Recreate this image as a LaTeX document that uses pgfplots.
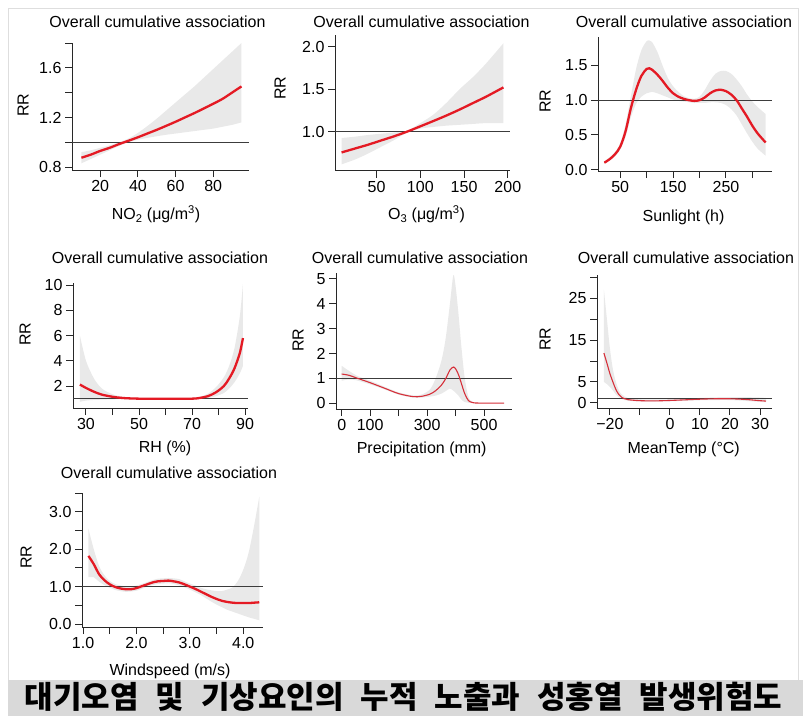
\documentclass[border=0pt]{standalone}
\usepackage{fontspec}
\setmainfont{Liberation Sans}
\newfontfamily\krfont{Noto Sans CJK KR}
\usepackage{pgfplots}
\pgfplotsset{compat=1.18}
\usepgfplotslibrary{fillbetween}

\definecolor{bandc}{RGB}{233,233,233}
\definecolor{redc}{RGB}{228,26,36}
\definecolor{redthin}{RGB}{214,48,58}
\definecolor{axc}{RGB}{40,40,40}
\definecolor{refc}{RGB}{60,60,60}
\definecolor{framec}{RGB}{222,222,222}
\definecolor{capc}{RGB}{217,217,217}

% x rr lo hi
\pgfplotstableread{
x rr lo hi
10 0.875 0.83 0.92
15 0.90 0.865 0.935
20 0.93 0.90 0.955
25 0.955 0.935 0.975
30 0.985 0.97 1.0
35 1.012 1.0 1.03
40 1.04 1.02 1.075
45 1.07 1.035 1.13
50 1.10 1.048 1.19
55 1.132 1.06 1.255
60 1.165 1.07 1.32
65 1.20 1.08 1.385
70 1.235 1.09 1.45
75 1.272 1.10 1.52
80 1.31 1.11 1.59
85 1.35 1.125 1.66
90 1.40 1.14 1.73
95 1.45 1.16 1.80
}\tNO

\pgfplotstableread{
x rr lo hi
10 0.755 0.615 0.925
25 0.80 0.67 0.94
40 0.845 0.74 0.96
55 0.895 0.82 0.975
70 0.945 0.90 0.99
85 1.0 0.99 1.01
100 1.062 1.035 1.10
115 1.125 1.055 1.20
130 1.19 1.07 1.34
145 1.26 1.08 1.50
160 1.335 1.09 1.64
175 1.41 1.10 1.80
195 1.52 1.10 2.04
}\tOT

\pgfplotstableread{
x rr lo hi
20 0.10 0.08 0.12
30 0.15 0.13 0.18
40 0.22 0.19 0.25
50 0.33 0.29 0.38
60 0.55 0.47 0.65
70 0.88 0.75 1.05
80 1.15 0.95 1.45
90 1.35 1.05 1.72
100 1.45 1.10 1.85
105 1.46 1.11 1.86
110 1.44 1.12 1.84
120 1.37 1.10 1.70
130 1.28 1.07 1.50
140 1.18 1.04 1.32
150 1.10 1.01 1.20
160 1.05 0.99 1.12
170 1.02 0.98 1.06
180 1.00 0.97 1.03
190 0.99 0.96 1.02
200 1.00 0.96 1.05
210 1.04 0.96 1.15
220 1.10 0.97 1.28
230 1.14 0.97 1.38
240 1.15 0.96 1.42
250 1.13 0.93 1.42
260 1.08 0.87 1.38
270 1.00 0.78 1.30
280 0.88 0.65 1.20
290 0.76 0.52 1.08
300 0.63 0.40 0.98
310 0.52 0.30 0.90
325 0.39 0.20 0.80
}\tSUN

\pgfplotstableread{
x rr lo hi
27.7 2.12 0.75 6.0
30 1.85 0.85 4.0
33 1.55 0.90 2.6
36 1.32 0.92 1.8
40 1.15 0.95 1.35
44 1.05 0.96 1.15
50 1.00 0.96 1.05
60 0.99 0.96 1.02
70 1.00 0.95 1.05
73 1.06 0.98 1.15
76 1.20 1.05 1.40
79 1.50 1.20 1.90
82 2.00 1.45 2.70
84 2.60 1.80 3.60
86 3.40 2.30 5.00
88 4.60 3.00 7.50
89.2 5.80 3.60 10.1
}\tRH

\pgfplotstableread{
x rr lo hi
0 1.17 0.90 1.50
25 1.12 0.95 1.30
50 1.02 0.92 1.12
75 0.92 0.84 1.00
100 0.82 0.75 0.90
150 0.60 0.55 0.66
200 0.38 0.34 0.43
250 0.26 0.22 0.31
280 0.27 0.22 0.34
310 0.36 0.26 0.55
330 0.50 0.30 1.00
350 0.72 0.38 1.70
365 0.98 0.48 2.60
380 1.33 0.58 4.00
392 1.45 0.50 5.15
400 1.38 0.42 4.70
410 1.15 0.30 3.60
420 0.80 0.14 2.30
432 0.38 0.04 1.00
445 0.10 0.01 0.25
460 0.02 0.00 0.04
480 0.00 0.00 0.01
570 0.00 0.00 0.01
}\tPR

\pgfplotstableread{
x rr lo hi
-22 11.9 5.0 27.0
-21 9.5 4.5 20.0
-20 7.0 3.8 13.0
-19 5.0 3.0 8.0
-18 3.2 2.0 5.0
-17 2.0 1.4 3.0
-16 1.3 0.9 2.0
-14 0.8 0.55 1.2
-10 0.55 0.35 0.9
-5 0.50 0.35 0.85
0 0.60 0.40 0.90
5 0.75 0.52 1.05
10 0.90 0.65 1.20
15 1.00 0.70 1.35
20 1.00 0.70 1.40
25 0.85 0.50 1.40
30 0.55 0.25 1.30
32 0.45 0.20 1.20
}\tMT

\pgfplotstableread{
x rr lo hi
1.1 1.82 1.25 2.55
1.2 1.60 1.25 2.00
1.3 1.33 1.13 1.55
1.4 1.17 1.04 1.30
1.5 1.06 0.97 1.15
1.6 0.99 0.91 1.07
1.7 0.95 0.88 1.03
1.8 0.93 0.86 1.00
1.9 0.93 0.87 1.00
2.0 0.96 0.89 1.03
2.1 1.01 0.94 1.07
2.2 1.06 1.00 1.12
2.3 1.11 1.04 1.17
2.4 1.14 1.07 1.21
2.5 1.15 1.08 1.22
2.6 1.16 1.09 1.23
2.7 1.14 1.07 1.22
2.8 1.11 1.03 1.20
2.9 1.06 0.98 1.14
3.0 1.00 0.92 1.08
3.1 0.94 0.85 1.03
3.2 0.87 0.78 0.97
3.3 0.80 0.69 0.93
3.4 0.73 0.60 0.90
3.5 0.67 0.52 0.88
3.6 0.62 0.45 0.88
3.7 0.59 0.38 0.92
3.8 0.57 0.33 0.98
3.9 0.56 0.28 1.15
4.0 0.56 0.23 1.45
4.1 0.56 0.18 1.90
4.2 0.57 0.14 2.60
4.3 0.58 0.10 3.40
}\tWS

\pgfplotsset{
  rpanel/.style={
    scale only axis, anchor=south west,
    axis x line*=bottom, axis y line*=left,
    axis line style={-, line width=1pt, draw=axc},
    every tick/.style={line width=1pt, draw=axc},
    tick align=outside, major tick length=7pt,
    ticklabel style={font=\fontsize{16}{16}\selectfont, text=black},
    enlargelimits=false, clip=true,
  },
  hiband/.style={name path=hi, draw=none, smooth, forget plot},
  loband/.style={name path=lo, draw=none, smooth, forget plot},
  bandfill/.style={fill=bandc, draw=none},
  refline/.style={refc, line width=1pt},
  curve/.style={redc, line width=2.3pt, smooth},
  thincurve/.style={redthin, line width=1.1pt, smooth},
}
\newcommand{\ttl}{\fontsize{16}{16}\selectfont Overall cumulative association}
\newcommand{\lbl}{\fontsize{16}{16}\selectfont}
\newcommand{\gap}{\hspace{17pt}}

\begin{document}
\begin{tikzpicture}
\draw[framec, line width=1pt] (8pt,-680pt) -- (8pt,-8pt) -- (798pt,-8pt) -- (798pt,-680pt);
\fill[capc] (8pt,-680pt) rectangle (803pt,-716pt);

% NO2
\begin{axis}[rpanel, at={(72pt,-170pt)}, width=177pt, height=127pt,
  xmin=5, xmax=99, ymin=0.776, ymax=1.80,
  xtick={20,40,60,80}, xticklabels={20,40,60,80},
  ytick={0.8,1.0,1.2,1.4,1.6,1.8}, yticklabels={0.8,,1.2,,1.6,}]
\addplot[hiband] table[x=x,y=hi]{\tNO};
\addplot[loband] table[x=x,y=lo]{\tNO};
\addplot[bandfill] fill between[of=hi and lo];
\addplot[refline] coordinates {(5,1) (99,1)};
\addplot[curve] table[x=x,y=rr]{\tNO};
\end{axis}

% O3
\begin{axis}[rpanel, at={(335pt,-170.7pt)}, width=175pt, height=136pt,
  xmin=2.5, xmax=202.5, ymin=0.54, ymax=2.14,
  xtick={50,100,150,200}, xticklabels={50,100,150,200},
  ytick={1.0,1.5,2.0}, yticklabels={1.0,1.5,2.0}]
\addplot[hiband] table[x=x,y=hi]{\tOT};
\addplot[loband] table[x=x,y=lo]{\tOT};
\addplot[bandfill] fill between[of=hi and lo];
\addplot[refline] coordinates {(2.5,1) (202.5,1)};
\addplot[curve] table[x=x,y=rr]{\tOT};
\end{axis}

% Sunlight
\begin{axis}[rpanel, at={(598pt,-171pt)}, width=174pt, height=134pt,
  xmin=8, xmax=337, ymin=-0.02, ymax=1.91,
  xtick={50,100,150,200,250,300}, xticklabels={50,,150,,250,},
  ytick={0,0.5,1.0,1.5}, yticklabels={0.0,0.5,1.0,1.5}]
\addplot[hiband] table[x=x,y=hi]{\tSUN};
\addplot[loband] table[x=x,y=lo]{\tSUN};
\addplot[bandfill] fill between[of=hi and lo];
\addplot[refline] coordinates {(8,1) (337,1)};
\addplot[curve] table[x=x,y=rr]{\tSUN};
\end{axis}

% RH
\begin{axis}[rpanel, at={(73pt,-408pt)}, width=175pt, height=125pt,
  xmin=25.1, xmax=91.1, ymin=0.26, ymax=10.16,
  xtick={30,40,50,60,70,80,90}, xticklabels={30,,50,,70,,90},
  ytick={2,4,6,8,10}, yticklabels={2,4,6,8,10}]
\addplot[hiband] table[x=x,y=hi]{\tRH};
\addplot[loband] table[x=x,y=lo]{\tRH};
\addplot[bandfill] fill between[of=hi and lo];
\addplot[refline] coordinates {(25.1,1) (91.1,1)};
\addplot[curve] table[x=x,y=rr]{\tRH};
\end{axis}

% Precipitation
\begin{axis}[rpanel, at={(336pt,-409pt)}, width=176pt, height=136pt,
  xmin=-20, xmax=598, ymin=-0.24, ymax=5.24,
  xtick={0,100,200,300,400,500}, xticklabels={0,100,,300,,500},
  ytick={0,1,2,3,4,5}, yticklabels={0,1,2,3,4,5}]
\addplot[hiband] table[x=x,y=hi]{\tPR};
\addplot[loband] table[x=x,y=lo]{\tPR};
\addplot[bandfill] fill between[of=hi and lo];
\addplot[refline] coordinates {(-20,1) (598,1)};
\addplot[thincurve] table[x=x,y=rr]{\tPR};
\end{axis}

% MeanTemp
\begin{axis}[rpanel, at={(597pt,-408pt)}, width=175pt, height=133pt,
  xmin=-24.3, xmax=34, ymin=-1.2, ymax=30.5,
  xtick={-20,-10,0,10,20,30}, xticklabels={−20,,0,10,20,30},
  ytick={0,5,10,15,20,25,30}, yticklabels={0,5,,15,,25,}]
\addplot[hiband] table[x=x,y=hi]{\tMT};
\addplot[loband] table[x=x,y=lo]{\tMT};
\addplot[bandfill] fill between[of=hi and lo];
\addplot[refline] coordinates {(-24.3,1) (34,1)};
\addplot[thincurve] table[x=x,y=rr]{\tMT};
\end{axis}

% Windspeed
\begin{axis}[rpanel, at={(82pt,-627pt)}, width=181pt, height=134pt,
  xmin=0.98, xmax=4.37, ymin=-0.08, ymax=3.5,
  xtick={1,1.5,2,2.5,3,3.5,4}, xticklabels={1.0,,2.0,,3.0,,4.0},
  ytick={0,0.5,1,1.5,2,2.5,3,3.5}, yticklabels={0.0,,1.0,,2.0,,3.0,}]
\addplot[hiband] table[x=x,y=hi]{\tWS};
\addplot[loband] table[x=x,y=lo]{\tWS};
\addplot[bandfill] fill between[of=hi and lo];
\addplot[refline] coordinates {(0.98,1) (4.37,1)};
\addplot[curve] table[x=x,y=rr]{\tWS};
\end{axis}

% titles
\foreach \cx/\by in {157.5/27, 421.5/27, 684/27, 160/263, 420/263, 686/263, 169/478}
  \node[anchor=base, inner sep=0pt] at (\cx pt,-\by pt) {\ttl};
% y labels
\foreach \cx/\cy in {23/105, 280/88, 545/101, 25/334, 298/340, 545/339, 26/557}
  \node[rotate=90, inner sep=0pt] at (\cx pt,-\cy pt) {\lbl RR};
% x labels
\node[anchor=base, inner sep=0pt] at (156pt,-219.5pt) {\lbl NO\textsubscript{2} (μg/m\textsuperscript{3})};
\node[anchor=base, inner sep=0pt] at (426.5pt,-219.5pt) {\lbl O\textsubscript{3} (μg/m\textsuperscript{3})};
\node[anchor=base, inner sep=0pt] at (683.5pt,-221pt) {\lbl Sunlight (h)};
\node[anchor=base, inner sep=0pt] at (165pt,-452pt) {\lbl RH (\%)};
\node[anchor=base, inner sep=0pt] at (421.7pt,-453pt) {\lbl Precipitation (mm)};
\node[anchor=base, inner sep=0pt] at (683.7pt,-453pt) {\lbl MeanTemp (°C)};
\node[anchor=base, inner sep=0pt] at (170pt,-675pt) {\lbl Windspeed (m/s)};
% caption
\node[anchor=base, inner sep=0pt] at (403.5pt,-708pt)
  {\krfont\bfseries\fontsize{31}{31}\selectfont 대기오염\gap 및\gap 기상요인의\gap 누적\gap 노출과\gap 성홍열\gap 발생위험도};
\pgfresetboundingbox
\useasboundingbox (0,0) rectangle (803pt,-716pt);
\end{tikzpicture}
\end{document}
